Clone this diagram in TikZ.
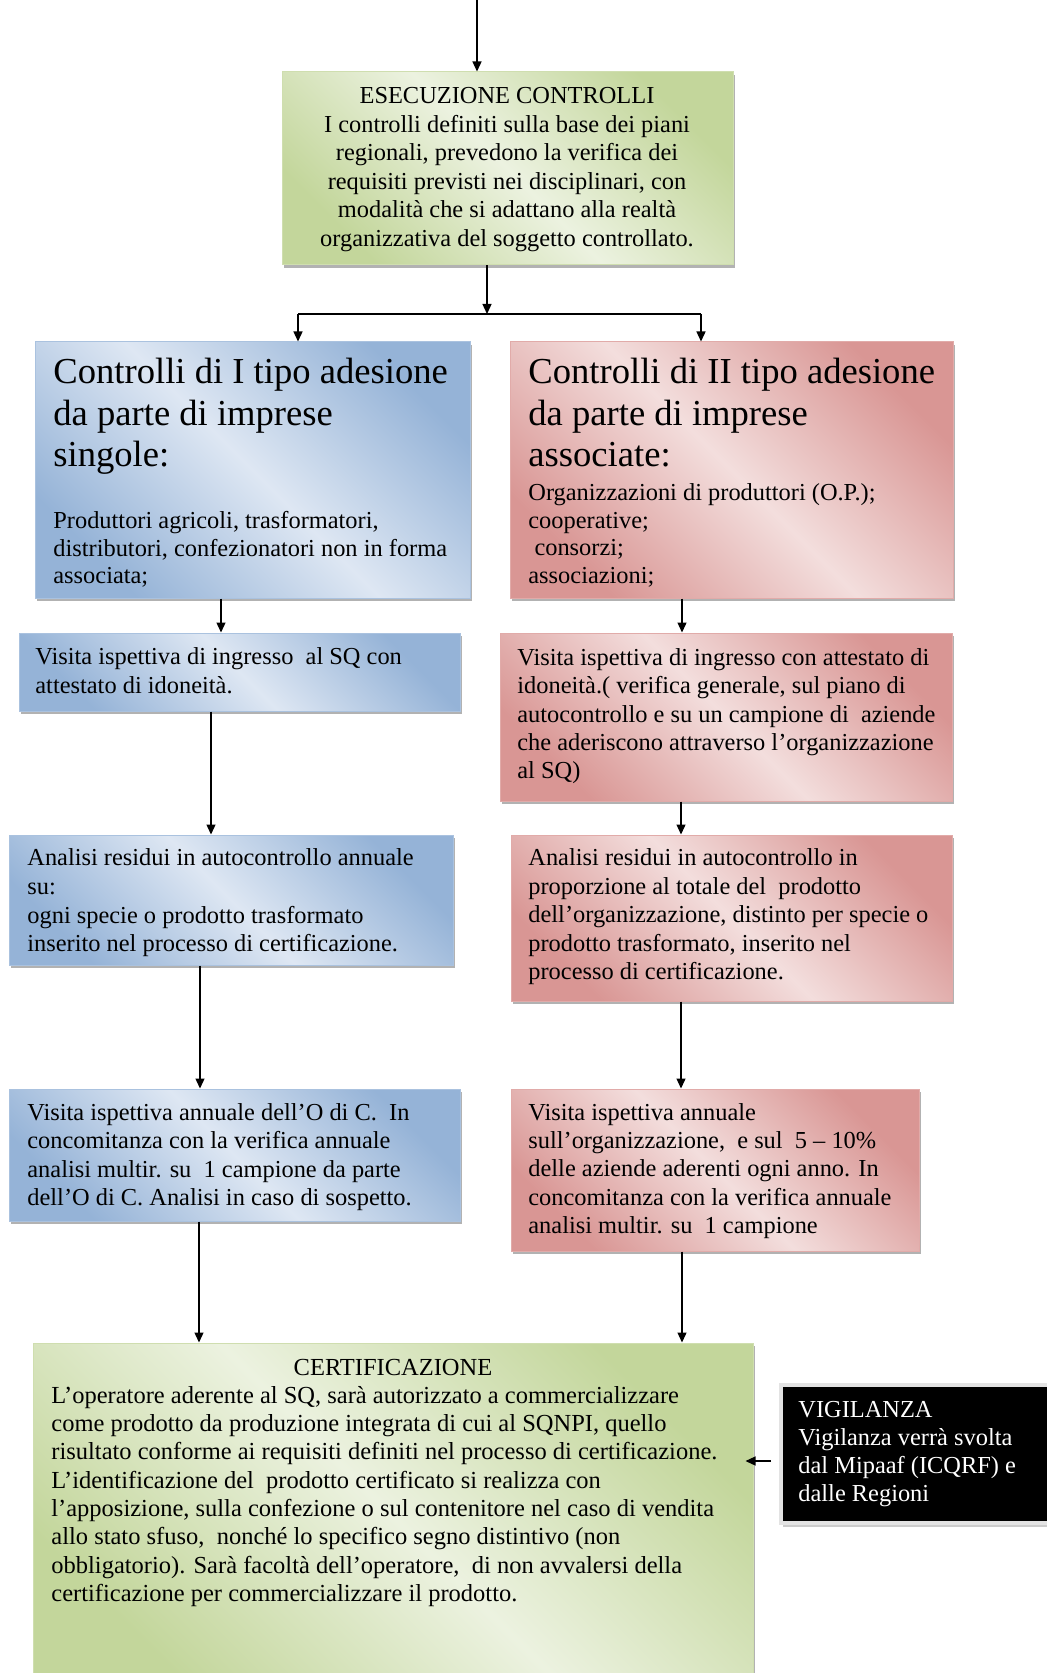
\documentclass[tikz,border=0pt]{standalone}
\usepackage{fontspec}
\setmainfont{Liberation Serif}
\usetikzlibrary{arrows.meta,fit,shadows,calc}
\definecolor{gdark}{RGB}{195,214,155}
\definecolor{glight}{RGB}{236,242,224}
\definecolor{bdark}{RGB}{149,179,215}
\definecolor{blight}{RGB}{222,231,243}
\definecolor{rdark}{RGB}{217,150,148}
\definecolor{rlight}{RGB}{243,222,221}
\begin{document}
\begin{tikzpicture}[x=0.5pt,y=-0.5pt,
  shad/.style={drop shadow={shadow xshift=1.2pt,shadow yshift=-1.5pt,fill=black!55,opacity=.55}},
  basebox/.style={inner sep=0pt,shad,line width=.5pt},
  gbox/.style={basebox,draw=gdark!80!white,top color=gdark,bottom color=gdark,middle color=glight,shading angle=-45},
  bbox/.style={basebox,draw=bdark!80!white,top color=bdark,bottom color=bdark,middle color=blight,shading angle=-45},
  rbox/.style={basebox,draw=rdark!80!white,top color=rdark,bottom color=rdark,middle color=rlight,shading angle=-45},
  kbox/.style={inner sep=0pt,fill=black,draw=gray!22,line width=2pt,drop shadow={shadow xshift=1pt,shadow yshift=-2pt,fill=black!40,opacity=.5}},
  txt/.style={anchor=north west,inner sep=0pt,align=left},
  fs/.style={font=\fontsize{12.2}{#1}\selectfont},
  big/.style={font=\fontsize{18.3}{20.85}\selectfont},
  arr/.style={line width=.65pt,-{Triangle[length=5pt,width=4.5pt]}},
  ln/.style={line width=.65pt}]
\useasboundingbox (0,0) rectangle (1047,1673);
\fill[white] (0,0) rectangle (1047,1673);

% boxes
\node[gbox,fit={(282,72)(733,265)}] (g1) {};
\node[bbox,fit={(35,342)(470,598)}] (b1) {};
\node[rbox,fit={(510,342)(953,598)}] (r1) {};
\node[bbox,fit={(19,633)(460,711)}] (b2) {};
\node[rbox,fit={(500,633)(952,801)}] (r2) {};
\node[bbox,fit={(9,835)(453,965)}] (b3) {};
\node[rbox,fit={(511,835)(952,1001)}] (r3) {};
\node[bbox,fit={(9,1089)(460,1221)}] (b4) {};
\node[rbox,fit={(511,1089)(919,1251)}] (r4) {};
\node[gbox,fit={(33,1343)(753,1690)}] (cert) {};
\node[kbox,fit={(781,1385)(1060,1523)}] (vig) {};

% texts
\node[txt,fs=14.3,anchor=north,align=center] (g1t) at (507,83)
 {\strut ESECUZIONE CONTROLLI\\
  I controlli definiti sulla base dei piani\\
  regionali, prevedono la verifica dei\\
  requisiti previsti nei disciplinari, con\\
  modalità che si adattano alla realtà\\
  organizzativa del soggetto controllato.};

\node[txt,big] (b1h) at (53,354)
 {\strut Controlli di I tipo adesione\\ da parte di imprese\\ singole:};
\node[txt,fs=13.9] (b1t) at (53,508.5)
 {\strut Produttori agricoli, trasformatori,\\
  distributori, confezionatori non in forma\\
  associata;};

\node[txt,big] (r1h) at (528,354)
 {\strut Controlli di II tipo adesione\\ da parte di imprese\\ associate:};
\node[txt,fs=13.9] (r1t) at (528,480.5)
 {\strut Organizzazioni di produttori (O.P.);\\
  cooperative;\\
  \hspace*{.25em}consorzi;\\
  associazioni;};

\node[txt,fs=14.4] (b2t) at (35,644)
 {\strut Visita ispettiva di ingresso~ al SQ con\\
  attestato di idoneità.};

\node[txt,fs=14.2] (r2t) at (517,645)
 {\strut Visita ispettiva di ingresso con attestato di\\
  idoneità.( verifica generale, sul piano di\\
  autocontrollo e su un campione di~ aziende\\
  che aderiscono attraverso l’organizzazione\\
  al SQ)};

\node[txt,fs=14.4] (b3t) at (27,845)
 {\strut Analisi residui in autocontrollo annuale\\
  su:\\
  ogni specie o prodotto trasformato\\
  inserito nel processo di certificazione.};

\node[txt,fs=14.3] (r3t) at (528,845)
 {\strut Analisi residui in autocontrollo in\\
  proporzione al totale del~ prodotto\\
  dell’organizzazione, distinto per specie o\\
  prodotto trasformato, inserito nel\\
  processo di certificazione.};

\node[txt,fs=14.2] (b4t) at (27,1100)
 {\strut Visita ispettiva annuale dell’O di C.~ In\\
  concomitanza con la verifica annuale\\
  analisi multir. su~ 1 campione da parte\\
  dell’O di C. Analisi in caso di sospetto.};

\node[txt,fs=14.15] (r4t) at (528,1100)
 {\strut Visita ispettiva annuale\\
  sull’organizzazione,~ e sul~ 5 – 10\%\\
  delle aziende aderenti ogni anno. In\\
  concomitanza con la verifica annuale\\
  analisi multir. su~ 1 campione};

\node[txt,anchor=north,font=\fontsize{12.25}{14.15}\selectfont] (certh) at (393,1355)
 {\strut CERTIFICAZIONE};
\node[txt,font=\fontsize{12.25}{14.15}\selectfont] (certt) at (51,1383)
 {\strut L’operatore aderente al SQ, sarà autorizzato a commercializzare\\
  come prodotto da produzione integrata di cui al SQNPI, quello\\
  risultato conforme ai requisiti definiti nel processo di certificazione.\\
  L’identificazione del~ prodotto certificato si realizza con\\
  l’apposizione, sulla confezione o sul contenitore nel caso di vendita\\
  allo stato sfuso,~ nonché lo specifico segno distintivo (non\\
  obbligatorio). Sarà facoltà dell’operatore,~ di non avvalersi della\\
  certificazione per commercializzare il prodotto.};

\node[txt,fs=14,text=white] (vigt) at (798,1397)
 {\strut VIGILANZA\\
  Vigilanza verrà svolta\\
  dal Mipaaf (ICQRF) e\\
  dalle Regioni};

% connectors
\coordinate (start) at (477,0);
\coordinate (jn) at (487,314);
\coordinate (jl) at (298,314);
\coordinate (jr) at (701,314);
\coordinate (vs) at (771,1461);

\draw[arr] (start) -- (start |- g1.north);
\draw[arr] (jn |- g1.south) -- (jn);
\draw[ln] (jl) -- (jr);
\draw[arr] (jl) -- (jl |- b1.north);
\draw[arr] (jr) -- (jr |- r1.north);

\draw[arr] (221,0 |- b1.south) -- (221,0 |- b2.north);
\draw[arr] (682,0 |- r1.south) -- (682,0 |- r2.north);
\draw[arr] (211,0 |- b2.south) -- (211,0 |- b3.north);
\draw[arr] (681,0 |- r2.south) -- (681,0 |- r3.north);
\draw[arr] (200,0 |- b3.south) -- (200,0 |- b4.north);
\draw[arr] (681,0 |- r3.south) -- (681,0 |- r4.north);
\draw[arr] (199,0 |- b4.south) -- (199,0 |- cert.north);
\draw[arr] (682,0 |- r4.south) -- (682,0 |- cert.north);
\draw[arr] (vs) -- ([xshift=-4pt]vs -| cert.east);
\end{tikzpicture}
\end{document}
